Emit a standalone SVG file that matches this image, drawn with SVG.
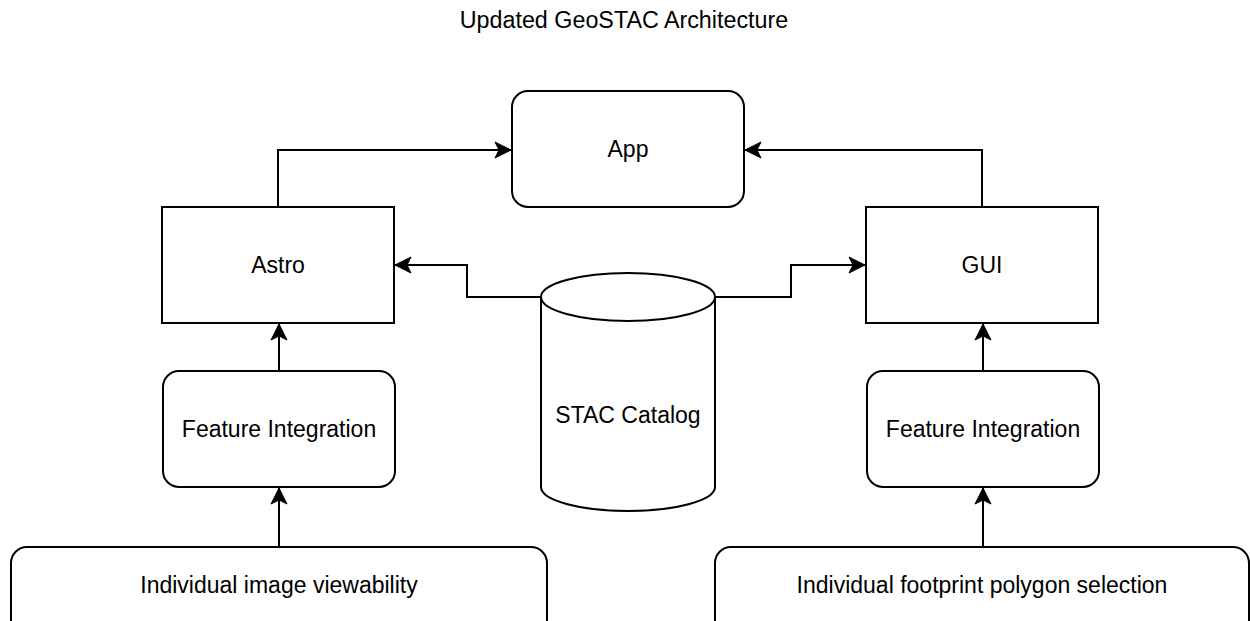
<svg xmlns="http://www.w3.org/2000/svg" width="1250" height="621" viewBox="0 0 1250 621">
<style>
.box{fill:#fff;stroke:#000;stroke-width:2}
.lbl{font-family:"Liberation Sans",Arial,sans-serif;font-size:23px;fill:#000;text-anchor:middle;dominant-baseline:central}
.edge{fill:none;stroke:#000;stroke-width:2}
</style>
<defs>
<marker id="arr" markerUnits="userSpaceOnUse" markerWidth="18" markerHeight="18" viewBox="0 0 18 18" refX="17" refY="9" orient="auto">
<path d="M1,1 L17,9 L1,17 L5,9 Z" fill="#000" stroke="#000" stroke-width="1"/>
</marker>
</defs>
<rect width="1250" height="621" fill="#fff"/>
<text x="624" y="20" class="lbl" style="font-size:23.3px">Updated GeoSTAC Architecture</text>
<g id="connectors">
<path class="edge" d="M278,207 V150 H511" marker-end="url(#arr)"/>
<path class="edge" d="M982,207 V150 H745" marker-end="url(#arr)"/>
<path class="edge" d="M541,297 H467 V265 H395" marker-end="url(#arr)"/>
<path class="edge" d="M715,297 H791 V265 H865" marker-end="url(#arr)"/>
<path class="edge" d="M279,371 V324" marker-end="url(#arr)"/>
<path class="edge" d="M983,371 V324" marker-end="url(#arr)"/>
<path class="edge" d="M279,547 V488" marker-end="url(#arr)"/>
<path class="edge" d="M983,547 V488" marker-end="url(#arr)"/>
</g>
<g id="app"><rect class="box" x="512" y="91" width="232" height="116" rx="16"/><text class="lbl" x="628" y="149">App</text></g>
<g id="astro"><rect class="box" x="162" y="207" width="232" height="116"/><text class="lbl" x="278" y="265">Astro</text></g>
<g id="gui"><rect class="box" x="866" y="207" width="232" height="116"/><text class="lbl" x="982" y="265">GUI</text></g>
<g id="fi-left"><rect class="box" x="163" y="371" width="232" height="116" rx="16"/><text class="lbl" x="279" y="429">Feature Integration</text></g>
<g id="fi-right"><rect class="box" x="867" y="371" width="232" height="116" rx="16"/><text class="lbl" x="983" y="429">Feature Integration</text></g>
<g id="stac"><path class="box" d="M541,297 A87,24 0 0 1 715,297 V487 A87,24 0 0 1 541,487 Z"/><path class="edge" d="M541,297 A87,24 0 0 0 715,297"/><text class="lbl" x="628" y="415">STAC Catalog</text></g>
<g id="view"><rect class="box" x="11" y="547" width="536" height="100" rx="16"/><text class="lbl" x="279" y="585">Individual image viewability</text></g>
<g id="poly"><rect class="box" x="715" y="547" width="534" height="100" rx="16"/><text class="lbl" x="982" y="585">Individual footprint polygon selection</text></g>
</svg>
